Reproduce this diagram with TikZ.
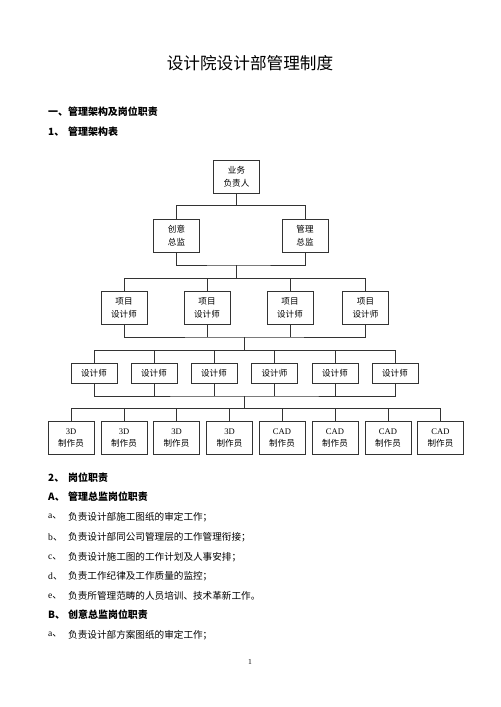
\documentclass[tikz,border=0pt]{standalone}
\usepackage{fontspec}
\setmainfont{Liberation Serif}
\newfontfamily\cjk{Noto Sans CJK SC}
\usetikzlibrary{positioning}

\tikzset{
  caja/.style={draw=black!80, line width=0.7pt, minimum width=1.38cm, minimum height=0.99cm,
    inner sep=0pt, align=center, font=\fontsize{7.3}{11}\selectfont},
  cajab/.style={caja, minimum height=0.6cm},
  linea/.style={draw=black!80, line width=0.7pt},
  titulo/.style={font=\cjk\fontsize{14.2}{16}\selectfont},
  encab/.style={right, inner sep=0pt, font=\cjk\bfseries\fontsize{8.5}{10}\selectfont},
  texto/.style={right, inner sep=0pt, font=\fontsize{8.2}{10}\selectfont}
}

\begin{document}
\begin{tikzpicture}[x=0.03cm, y=-0.03cm]
\useasboundingbox (0,0) rectangle (500,707);

				\node [titulo] (tit) at (250,63) {设计院设计部管理制度};
				\node [encab] (h1) at (48,112) {一、管理架构及岗位职责};
				\node [encab] (n1) at (48,132) {1\cjk{、}};
				\node [encab] (h2) at (68,132) {管理架构表};

				% primer nivel
				\node [caja] (boss) at (236.5,176.5) {\cjk 业务\\\cjk 负责人};
				\node [caja] (cy) at (176.5,235.5) {\cjk 创意\\\cjk 总监};
				\node [caja] (gl) at (305,235.5) {\cjk 管理\\\cjk 总监};
				\coordinate (j1) at (236.5,205);
				\coordinate (j2) at (236.5,265);
				\coordinate (j3) at (236.5,278);
				\draw [linea] (boss.south) -- (j1) -| (cy.north);
				\draw [linea] (j1) -| (gl.north);
				\draw [linea] (cy.south) |- (j2) -| (gl.south);
				\draw [linea] (j2) -- (j3);

				% proyecto
				\node [caja] (xm1) at (124,308) {\cjk 项目\\\cjk 设计师};
				\node [caja] (xm2) at (207,308) {\cjk 项目\\\cjk 设计师};
				\node [caja] (xm3) at (290,308) {\cjk 项目\\\cjk 设计师};
				\node [caja] (xm4) at (365.5,308) {\cjk 项目\\\cjk 设计师};
				\draw [linea] (j3) -| (xm1.north);
				\draw [linea] (j3) -| (xm2.north);
				\draw [linea] (j3) -| (xm3.north);
				\draw [linea] (j3) -| (xm4.north);
				\coordinate (j4) at (244,337);
				\coordinate (j5) at (244,350);
				\draw [linea] (xm1.south) |- (j4) -| (xm4.south);
				\draw [linea] (xm2.south) -- (xm2.south |- j4);
				\draw [linea] (xm3.south) -- (xm3.south |- j4);
				\draw [linea] (j4) -- (j5);

				% disenadores
				\node [cajab] (d1) at (94,373) {\cjk 设计师};
				\node [cajab] (d2) at (154,373) {\cjk 设计师};
				\node [cajab] (d3) at (214,373) {\cjk 设计师};
				\node [cajab] (d4) at (274.5,373) {\cjk 设计师};
				\node [cajab] (d5) at (335,373) {\cjk 设计师};
				\node [cajab] (d6) at (395,373) {\cjk 设计师};
				\draw [linea] (j5) -| (d1.north);
				\draw [linea] (j5) -| (d2.north);
				\draw [linea] (j5) -| (d3.north);
				\draw [linea] (j5) -| (d4.north);
				\draw [linea] (j5) -| (d5.north);
				\draw [linea] (j5) -| (d6.north);
				\coordinate (j6) at (244,396);
				\coordinate (j7) at (244,408);
				\draw [linea] (d1.south) |- (j6) -| (d6.south);
				\draw [linea] (d2.south) -- (d2.south |- j6);
				\draw [linea] (d3.south) -- (d3.south |- j6);
				\draw [linea] (d4.south) -- (d4.south |- j6);
				\draw [linea] (d5.south) -- (d5.south |- j6);
				\draw [linea] (j6) -- (j7);

				% dibujantes
				\node [caja] (z1) at (71,438) {3D\\\cjk 制作员};
				\node [caja] (z2) at (124,438) {3D\\\cjk 制作员};
				\node [caja] (z3) at (176.5,438) {3D\\\cjk 制作员};
				\node [caja] (z4) at (229.5,438) {3D\\\cjk 制作员};
				\node [caja] (z5) at (282,438) {CAD\\\cjk 制作员};
				\node [caja] (z6) at (335,438) {CAD\\\cjk 制作员};
				\node [caja] (z7) at (388,438) {CAD\\\cjk 制作员};
				\node [caja] (z8) at (440.5,438) {CAD\\\cjk 制作员};
				\draw [linea] (j7) -| (z1.north);
				\draw [linea] (j7) -| (z2.north);
				\draw [linea] (j7) -| (z3.north);
				\draw [linea] (j7) -| (z4.north);
				\draw [linea] (j7) -| (z5.north);
				\draw [linea] (j7) -| (z6.north);
				\draw [linea] (j7) -| (z7.north);
				\draw [linea] (j7) -| (z8.north);

				% texto
				\node [encab] (n2) at (48,478) {2\cjk{、}};
				\node [encab] (h3) at (68,478) {岗位职责};
				\node [encab] (na) at (48,497) {A\cjk{、}};
				\node [encab] (h4) at (68,497) {管理总监岗位职责};
				\node [texto] (la) at (48,517) {a\cjk{、}};
				\node [texto] (ta) at (68,517) {\cjk 负责设计部施工图纸的审定工作；};
				\node [texto] (lb) at (48,537) {b\cjk{、}};
				\node [texto] (tb) at (68,537) {\cjk 负责设计部同公司管理层的工作管理衔接；};
				\node [texto] (lc) at (48,557) {c\cjk{、}};
				\node [texto] (tc) at (68,557) {\cjk 负责设计施工图的工作计划及人事安排；};
				\node [texto] (ld) at (48,576) {d\cjk{、}};
				\node [texto] (td) at (68,576) {\cjk 负责工作纪律及工作质量的监控；};
				\node [texto] (le) at (48,596) {e\cjk{、}};
				\node [texto] (te) at (68,596) {\cjk 负责所管理范畴的人员培训、技术革新工作。};
				\node [encab] (nb) at (48,615) {B\cjk{、}};
				\node [encab] (h5) at (68,615) {创意总监岗位职责};
				\node [texto] (la2) at (48,635) {a\cjk{、}};
				\node [texto] (ta2) at (68,635) {\cjk 负责设计部方案图纸的审定工作；};
				\node [font=\fontsize{6.5}{8}\selectfont] (pag) at (250,662) {1};

\end{tikzpicture}
\end{document}
